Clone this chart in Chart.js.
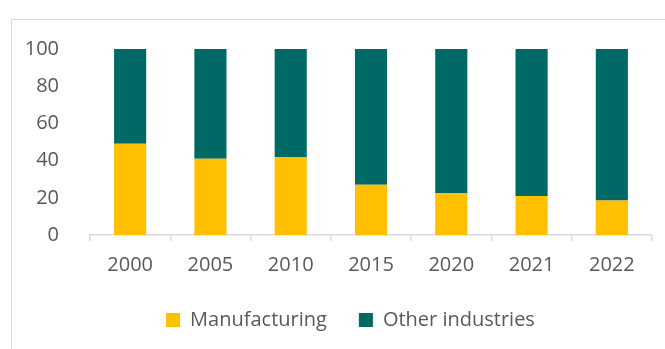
<!DOCTYPE html>
<html>
<head>
<meta charset="utf-8">
<script src="https://cdn.jsdelivr.net/npm/chart.js@4"></script>
<style>
  html, body { margin: 0; padding: 0; background: #fff; }
  #wrap { position: relative; width: 665px; height: 349px; overflow: hidden; }
  #frame {
    position: absolute; left: 11px; top: 19px; width: 700px; height: 400px;
    border: 1px solid #d9d9d9; box-sizing: border-box;
  }
  #chart { position: absolute; left: 0; top: 0; }
</style>
</head>
<body>
<div id="wrap">
  <div id="frame"></div>
  <canvas id="chart" width="665" height="349"></canvas>
</div>
<script>
// Share of value added, percent
const years = ["2000", "2005", "2010", "2015", "2020", "2021", "2022"];
const manufacturing = [49, 41, 42, 27, 22.5, 21, 18.5];
const otherIndustries = [51, 59, 58, 73, 77.5, 79, 81.5];
const yTicks = [0, 20, 40, 60, 80, 100];

const textColor = "#595959";
const fontFamily = "'Open Sans', sans-serif";

// legend is centred a bit right of the canvas centre
const shiftLegend = {
  id: "shiftLegend",
  afterLayout(chart) {
    chart.legend.left = 49;
  },
};

const ctx = document.getElementById("chart").getContext("2d");
new Chart(ctx, {
  type: "bar",
  plugins: [shiftLegend],
  data: {
    labels: years,
    datasets: [
      {
        label: "Manufacturing",
        data: manufacturing,
        backgroundColor: "#FFC000",
        borderWidth: 0,
      },
      {
        label: "Other industries",
        data: otherIndustries,
        backgroundColor: "#006865",
        borderWidth: 0,
      },
    ],
  },
  options: {
    responsive: false,
    animation: false,
    layout: {
      padding: { left: 0, right: 13, top: 49, bottom: 9 },
    },
    datasets: {
      bar: { categoryPercentage: 1, barPercentage: 0.4 },
    },
    scales: {
      x: {
        stacked: true,
        afterFit: (s) => { s.height = 43; },
        grid: {
          offset: true,
          drawOnChartArea: false,
          tickLength: 6,
          color: "#d9d9d9",
          lineWidth: 1.5,
        },
        border: { color: "#d9d9d9", width: 1.5 },
        ticks: {
          color: textColor,
          font: { family: fontFamily, size: 20 },
          padding: 12,
        },
      },
      y: {
        stacked: true,
        min: 0,
        max: 100,
        afterFit: (s) => { s.width = 90; },
        afterBuildTicks: (s) => {
          s.ticks = yTicks.map((v) => ({ value: v }));
        },
        grid: { display: false },
        border: { display: false },
        ticks: {
          color: textColor,
          font: { family: fontFamily, size: 20 },
          padding: 23,
        },
      },
    },
    plugins: {
      tooltip: { enabled: false },
      legend: {
        position: "bottom",
        labels: {
          color: textColor,
          font: { family: fontFamily, size: 20 },
          boxWidth: 14,
          boxHeight: 14,
          padding: 32,
        },
      },
    },
  },
});
</script>
</body>
</html>
